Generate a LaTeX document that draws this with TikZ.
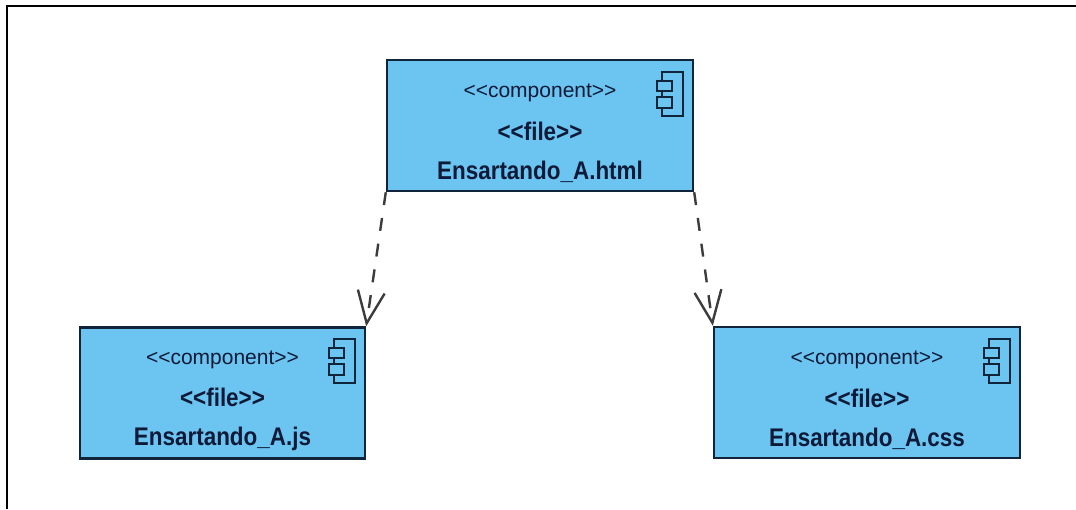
\documentclass[tikz,border=0pt]{standalone}
\usepackage{fontspec}
\setmainfont{Liberation Sans}
\newfontfamily\namefont[FakeStretch=0.88]{Liberation Sans Bold}
\usetikzlibrary{arrows.meta, calc}
\definecolor{boxfill}{RGB}{108, 196, 241}
\definecolor{boxline}{RGB}{16, 36, 58}
\definecolor{boxtext}{RGB}{14, 26, 56}
\definecolor{depline}{RGB}{60, 60, 60}
\tikzset{
  comp/.style={draw=boxline, fill=boxfill, line width=2.4pt, text=boxtext, minimum height=131pt, align=center, inner sep=0pt},
  dep/.style={draw=depline, line width=2.4pt, dash pattern=on 13pt off 13pt, -{Straight Barb[length=32pt, width=27pt, line width=2.4pt]}},
  compicon/.pic={
    \draw[boxline, line width=2pt] (-32, 13) rectangle (-11, 57);
    \draw[boxline, fill=boxfill, line width=2pt] (-37, 22) rectangle (-22, 32);
    \draw[boxline, fill=boxfill, line width=2pt] (-37, 38) rectangle (-22, 49);
  }
}
\newcommand{\complabel}[1]{\rule{0pt}{29pt}{\fontsize{21}{21}\selectfont <{}<component>{}>}\\[19pt]{\fontsize{25.5}{25.5}\namefont <{}<file>{}>}\\[19pt]{\fontsize{25.5}{25.5}\namefont #1}}

\begin{document}
\begin{tikzpicture}[x=1pt, y=-1pt]
  \useasboundingbox (0, 0) rectangle (1076, 509);
  \fill[white] (0, 0) rectangle (1076, 509);

  \coordinate (framea) at (7, 509);
  \coordinate (frameb) at (7, 6);
  \coordinate (framec) at (1076, 6);
  \draw[line width=2pt, black] (framea) -- (frameb) -- (framec);

  \node[comp, minimum width=306pt] (html) at (540, 125.5) {\complabel{Ensartando\_A.html}};
  \node[comp, minimum width=285pt] (js) at (222.5, 393) {\complabel{Ensartando\_A.js}};
  \node[comp, minimum width=306pt] (css) at (867, 392.5) {\complabel{Ensartando\_A.css}};

  \pic at (html.north east) {compicon};
  \pic at (js.north east) {compicon};
  \pic at (css.north east) {compicon};

  \draw[dep] (html.south west) -- (js.north east);
  \draw[dep] (html.south east) -- (css.north west);
\end{tikzpicture}
\end{document}
